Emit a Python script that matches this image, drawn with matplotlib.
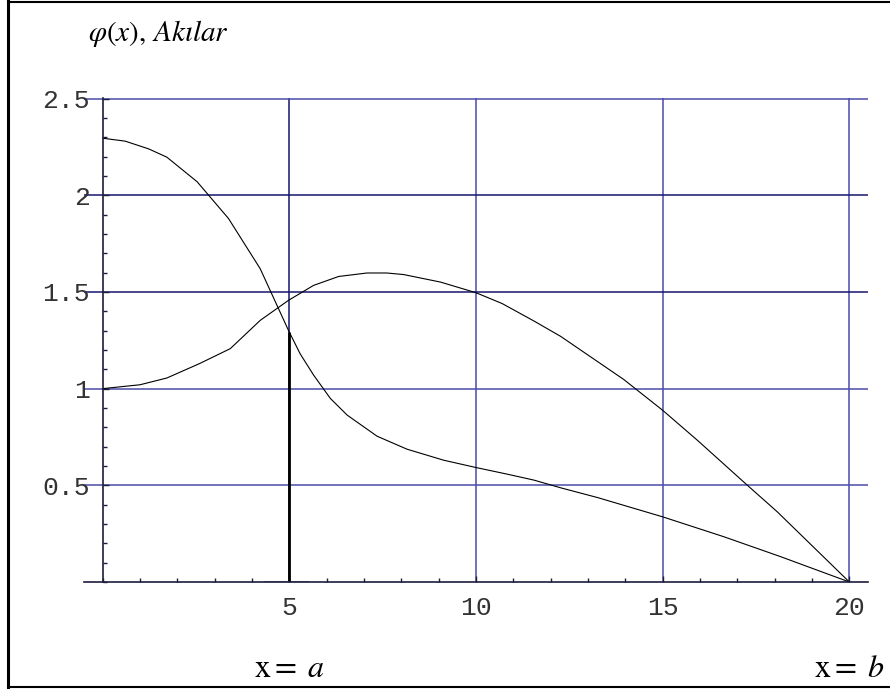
import numpy as np
import matplotlib
matplotlib.use("Agg")
import matplotlib.pyplot as plt
from matplotlib.lines import Line2D
from matplotlib.ticker import MultipleLocator, FixedLocator

plt.rcParams['mathtext.fontset'] = 'stix'

# Eğriler: φ(x) ve akılar
x_phi = [0, 0.6, 1.23, 1.72, 2.53, 3.37, 4.22, 4.98, 5.29, 5.65, 6.10, 6.55,
         7.35, 8.15, 9.13, 10.0, 10.83, 11.55, 12.27, 13.25, 15.0, 16.64, 18.16, 20]
y_phi = [2.295, 2.28, 2.24, 2.197, 2.07, 1.88, 1.62, 1.30, 1.18, 1.07, 0.949, 0.863,
         0.754, 0.687, 0.630, 0.592, 0.558, 0.527, 0.487, 0.437, 0.337, 0.234, 0.131, 0.0]

x_aki = [0, 1.0, 1.72, 2.6, 3.42, 4.22, 4.98, 5.65, 6.32, 7.08, 7.61, 8.06, 9.05,
         10.0, 10.7, 11.55, 12.27, 13.96, 15.0, 15.93, 17.27, 18.07, 20]
y_aki = [1.0, 1.02, 1.055, 1.13, 1.207, 1.353, 1.457, 1.534, 1.58, 1.598, 1.598, 1.59, 1.551,
         1.496, 1.44, 1.35, 1.27, 1.047, 0.888, 0.733, 0.50, 0.363, 0.0]

# sınırlar
a_val = 5
b_val = 20
taban = [4.35, 5.5]   # x=a çevresindeki kalın taban çizgisi

x_major = [5, 10, 15, 20]
x_labels = ['5', '10', '15', '20']
y_major = [0.5, 1, 1.5, 2, 2.5]
y_labels = ['0.5', '1', '1.5', '2', '2.5']

koyu = '#16166e'
acik = '#4b4bab'
eksen = '#1c1c3c'

fig = plt.figure(figsize=(8.9, 6.91), dpi=100)
ax = fig.add_axes([84 / 890, 109 / 691, 784 / 890, 484 / 691])
ax.set_xlim(-0.5, 20.5)
ax.set_ylim(0, 2.503)

# ızgara çizgileri
for xv in x_major:
    ax.axvline(xv, color=koyu if xv == a_val else acik, lw=1.1, zorder=1)
for yv in y_major:
    ax.axhline(yv, color=koyu if yv in (1.5, 2) else acik, lw=1.1, zorder=1)

ax.plot(x_phi, y_phi, color='black', lw=0.8, zorder=3)
ax.plot(x_aki, y_aki, color='black', lw=0.8, zorder=3)

# x = a noktasındaki dikey çizgi
ust = np.interp(a_val, x_phi, y_phi)
ax.vlines(a_val, 0, ust, color='black', lw=2.0, zorder=4)
ax.plot(taban, [0, 0], color='#555566', lw=1.8, zorder=2)

# eksenler
for s in ['top', 'right']:
    ax.spines[s].set_visible(False)
ax.spines['left'].set_position(('data', 0))
ax.spines['left'].set_color(eksen)
ax.spines['bottom'].set_color(eksen)
ax.spines['left'].set_linewidth(1.2)
ax.spines['bottom'].set_linewidth(1.2)
ax.spines['left'].set_zorder(5)
ax.spines['bottom'].set_zorder(5)

ax.xaxis.set_major_locator(FixedLocator(x_major))
ax.set_xticklabels(x_labels)
ax.xaxis.set_minor_locator(MultipleLocator(1))
ax.yaxis.set_major_locator(FixedLocator(y_major))
ax.set_yticklabels(y_labels)
ax.yaxis.set_minor_locator(MultipleLocator(0.1))

ax.tick_params(axis='both', which='major', direction='in', length=4, width=1,
               color=eksen, labelsize=19, labelcolor='#333333')
ax.tick_params(axis='both', which='minor', direction='in', length=3, width=1,
               color=eksen)
ax.tick_params(axis='x', which='major', pad=10)
ax.tick_params(axis='y', which='major', pad=9)
for lab in ax.get_xticklabels() + ax.get_yticklabels():
    lab.set_family('Liberation Mono')

# başlık ve sınır etiketleri
fig.text(88 / 890, 1 - 41 / 691, r'$\varphi(x),\,Ak\imath lar$', fontsize=21,
         va='baseline', ha='left', color='black')
tr = matplotlib.transforms.blended_transform_factory(ax.transData, fig.transFigure)
ax.text(a_val, 1 - 677 / 691, r'$\mathrm{x}{=}\;a$', transform=tr, fontsize=23,
        ha='center', va='baseline', clip_on=False)
ax.text(b_val, 1 - 677 / 691, r'$\mathrm{x}{=}\;b$', transform=tr, fontsize=23,
        ha='center', va='baseline', clip_on=False)

# çerçeve
fig.add_artist(Line2D([8 / 890, 8 / 890], [1 - 1 / 691, 1 - 687 / 691], color='black', lw=2.2))
fig.add_artist(Line2D([8 / 890, 1], [1 - 1.5 / 691, 1 - 1.5 / 691], color='black', lw=1.5))
fig.add_artist(Line2D([8 / 890, 1], [1 - 687 / 691, 1 - 687 / 691], color='black', lw=1.5))

fig.savefig('out.png', dpi=100)
